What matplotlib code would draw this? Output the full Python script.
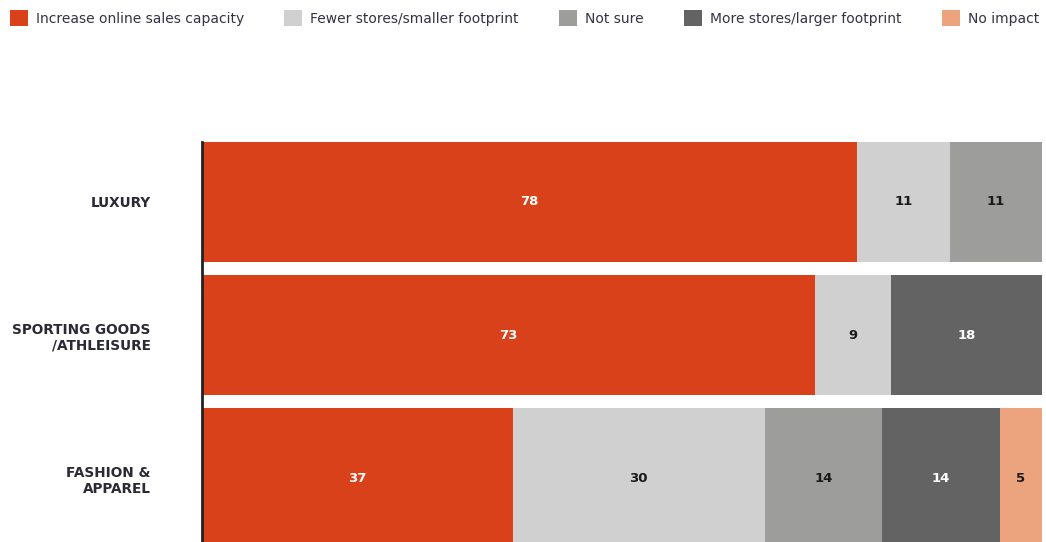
import numpy as np
import matplotlib.pyplot as plt
from matplotlib.patches import Patch

plt.rcParams['font.family'] = ['DejaVu Sans']

# data
categories = ['LUXURY', 'SPORTING GOODS\n/ATHLEISURE', 'FASHION &\nAPPAREL']
series = ['Increase online sales capacity', 'Fewer stores/smaller footprint',
          'Not sure', 'More stores/larger footprint', 'No impact']
increase_online = [78, 73, 37]
fewer_stores = [11, 9, 30]
not_sure = [11, 0, 14]
more_stores = [0, 18, 14]
no_impact = [0, 0, 5]

colors = ['#D9411A', '#D0D0D0', '#9D9D9B', '#636363', '#EBA47E']
text_colors = ['white', '#1a1a1a', '#1a1a1a', 'white', '#1a1a1a']

fig = plt.figure(figsize=(10.46, 5.42), dpi=100)
ax = fig.add_axes([202 / 1046, 0, (1042 - 202) / 1046, 400 / 542])

ypos = np.array([0, 1, 2.075])
heights = [0.9, 0.9, 1.05]

left = np.zeros(3)
for vals, col, tcol in zip([increase_online, fewer_stores, not_sure, more_stores, no_impact],
                           colors, text_colors):
    vals = np.array(vals, dtype=float)
    ax.barh(ypos, vals, left=left, height=heights, color=col, edgecolor='none')
    for y, l, v in zip(ypos, left, vals):
        if v > 0:
            ax.text(l + v / 2, y, str(int(v)), ha='center', va='center',
                    color=tcol, fontsize=9.5, fontweight='bold')
    left += vals

ax.set_xlim(0, 100)
ax.set_ylim(2.555, -0.45)
ax.set_yticks(ypos)
ax.set_yticklabels(categories, fontsize=9.8, fontweight='bold', color='#2a2a35',
                   linespacing=1.2)
ax.tick_params(axis='y', length=0, pad=37)
ax.set_xticks([])
for s in ['top', 'right', 'bottom']:
    ax.spines[s].set_visible(False)
ax.spines['left'].set_linewidth(2)
ax.spines['left'].set_color('#222222')

handles = [Patch(facecolor=c, edgecolor='none') for c in colors]
fig.legend(handles, series, loc='upper left', bbox_to_anchor=(-3 / 1046, 1 + 2 / 542),
           ncol=5, frameon=False, fontsize=10, handlelength=1.3, handleheight=1.3,
           handletextpad=0.58, columnspacing=2.9, labelcolor='#333344')

fig.savefig('out.png', dpi=100)
